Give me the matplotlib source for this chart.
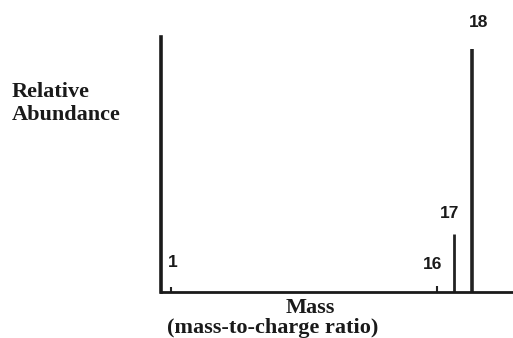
import matplotlib
matplotlib.use("Agg")
import matplotlib.pyplot as plt

# Data
mz = [1, 16, 17, 18]
abundance = [2.0, 2.5, 24.0, 100.0]
peak_labels = ["1", "16", "17", "18"]

# style: label offsets in pixels (dx, dy) from peak tops
label_offsets = [(2, 25), (-4, 21), (-5, 20), (7, 26)]
peak_widths = [1.5, 1.5, 2.0, 2.6]

W, H = 513, 338
fig = plt.figure(figsize=(W / 100, H / 100), dpi=100)
left_px, right_px, top_px, bottom_px = 160.5, 513, 37, 292
ax = fig.add_axes([left_px / W, (H - bottom_px) / H,
                   (right_px - left_px) / W, (bottom_px - top_px) / H])

ax.set_xlim(0.407, 20.316)
ax.set_ylim(0, 104.9)

ink = "#222222"
for x, y, lw in zip(mz, abundance, peak_widths):
    ax.vlines(x, 0, y, colors=ink, linewidth=lw)

for x, y, lab, (dx, dy) in zip(mz, abundance, peak_labels, label_offsets):
    ax.annotate(lab, xy=(x, y), xytext=(dx, dy), textcoords="offset pixels",
                ha="center", va="center", fontsize=12.5, fontweight="bold",
                family="Liberation Sans", color="#1a1a1a")

for side in ("top", "right"):
    ax.spines[side].set_visible(False)
ax.spines["left"].set_linewidth(2.6)
ax.spines["bottom"].set_linewidth(2.0)
for side in ("left", "bottom"):
    ax.spines[side].set_color("#1a1a1a")
    ax.spines[side].set_capstyle("projecting")
ax.set_xticks([])
ax.set_yticks([])
ax.patch.set_alpha(0)

serif = dict(family="Liberation Serif", fontweight="bold", color="#1a1a1a")
fig.text(12 / W, 1 - 97 / H, "Relative", ha="left", va="baseline", fontsize=16, **serif)
fig.text(12 / W, 1 - 120 / H, "Abundance", ha="left", va="baseline", fontsize=16, **serif)
fig.text(310 / W, 1 - 313 / H, "Mass", ha="center", va="baseline", fontsize=16, **serif)
fig.text(167 / W, 1 - 333 / H, "(mass-to-charge ratio)", ha="left", va="baseline",
         fontsize=16, **serif)

fig.savefig("out.png", dpi=100)
